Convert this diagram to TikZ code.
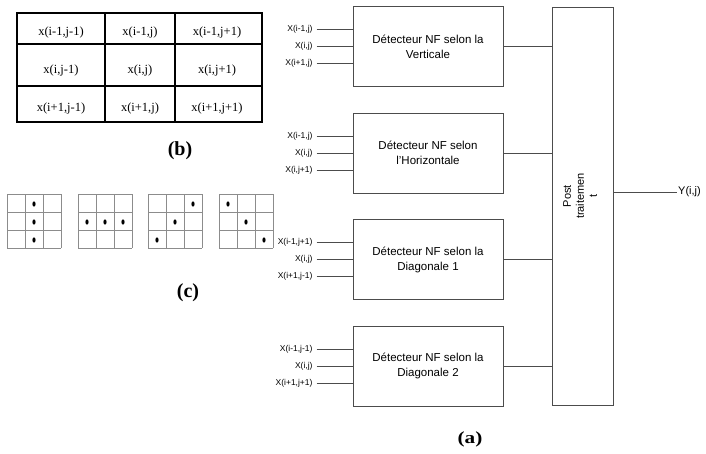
\documentclass[tikz,border=0pt]{standalone}
\usepackage{fontspec}
\setmainfont{Liberation Serif}
\setsansfont{Liberation Sans}
\usepackage{tikz}
\usetikzlibrary{positioning}
\definecolor{blockBorder}{rgb}{0.3,0.3,0.3}
\definecolor{gridBorder}{rgb}{0.55,0.55,0.55}
\tikzstyle{detector} = [draw=blockBorder, line width=0.6pt, minimum width=150pt, minimum height=80pt,
        align=center, font={\sffamily\fontsize{11.5}{15}\selectfont}]
\tikzstyle{post} = [draw=blockBorder, line width=0.6pt, minimum width=61pt, minimum height=398pt, inner sep=0pt]
\tikzstyle{input} = [font={\sffamily\fontsize{8.5}{9}\selectfont}, anchor=east, inner sep=4pt]
\tikzstyle{wire} = [draw=blockBorder, line width=0.6pt]
\tikzstyle{cell} = [font={\fontsize{12.5}{14}\selectfont}]
\tikzstyle{caption} = [font={\bfseries\fontsize{20}{22}\selectfont}]

\begin{document}
\begin{tikzpicture}[x=1pt, y=-1pt]
        \useasboundingbox (0,0) rectangle (706,453);
        % table (b)
        \draw [line width=1.6pt] (17,13) rectangle (262,122);
        \draw [line width=1.6pt] (105,13) -- (105,122) (175,13) -- (175,122)
            (17,44) -- (262,44) (17,86) -- (262,86);
        \node [cell] (c11) at (61,32) {x(i-1,j-1)};
        \node [cell] (c12) at (140,32) {x(i-1,j)};
        \node [cell] (c13) at (217,32) {x(i-1,j+1)};
        \node [cell] (c21) at (61,70) {x(i,j-1)};
        \node [cell] (c22) at (140,70) {x(i,j)};
        \node [cell] (c23) at (217,70) {x(i,j+1)};
        \node [cell] (c31) at (61,108) {x(i+1,j-1)};
        \node [cell] (c32) at (140,108) {x(i+1,j)};
        \node [cell] (c33) at (217,108) {x(i+1,j+1)};
        \node [caption] (capb) at (180,151) {(b)};
        % masks (c)
        \foreach \gx in {7,78,148,219}
            \foreach \k in {0,18,36,54} {
                \draw [gridBorder, line width=0.8pt] (\gx+\k,194) -- (\gx+\k,248);
                \draw [gridBorder, line width=0.8pt] (\gx,194+\k) -- (\gx+54,194+\k);
            }
        \foreach \gx/\c/\r in {7/1/0, 7/1/1, 7/1/2, 78/0/1, 78/1/1, 78/2/1,
                148/2/0, 148/1/1, 148/0/2, 219/0/0, 219/1/1, 219/2/2}
            \fill (\gx+9+18*\c,194+10+18*\r) ellipse (1.6 and 2.6);
        \node [caption] (capc) at (188,293) {(c)};
        % detectors
        \node [detector] (vert) at (428,46.5) {D\'etecteur NF selon la\\Verticale};
        \node [detector, below=26pt of vert] (hori) {D\'etecteur NF selon\\l'Horizontale};
        \node [detector, below=26pt of hori] (diag1) {D\'etecteur NF selon la\\Diagonale 1};
        \node [detector, below=26pt of diag1] (diag2) {D\'etecteur NF selon la\\Diagonale 2};
        \foreach \det/\ia/\ib/\ic in {vert/X(i-1{,}j)/X(i{,}j)/X(i+1{,}j),
                hori/X(i-1{,}j)/X(i{,}j)/X(i{,}j+1),
                diag1/X(i-1{,}j+1)/X(i{,}j)/X(i+1{,}j-1),
                diag2/X(i-1{,}j-1)/X(i{,}j)/X(i+1{,}j+1)} {
            \node [input, xshift=-36pt, yshift=17pt] (\det-a) at (\det.west) {\ia};
            \node [input, xshift=-36pt] (\det-b) at (\det.west) {\ib};
            \node [input, xshift=-36pt, yshift=-17pt] (\det-c) at (\det.west) {\ic};
            \draw [wire] (\det-a.east) -- (\det-a.east -| \det.west);
            \draw [wire] (\det-b.east) -- (\det-b.east -| \det.west);
            \draw [wire] (\det-c.east) -- (\det-c.east -| \det.west);
        }
        % post-processing
        \node [post] (post) at (582.5,206) {};
        \node [rotate=90, align=center, font={\sffamily\fontsize{11}{13}\selectfont}] (posttext)
            at (580,196) {Post\\traitemen\\t};
        \foreach \det in {vert,hori,diag1,diag2}
            \draw [wire] (\det.east) -- (\det.east -| post.west);
        \node [font={\sffamily\fontsize{11}{13}\selectfont}, anchor=west, inner sep=1pt] (out) at (677,192) {Y(i,j)};
        \draw [wire] (out.west -| post.east) -- (out.west);
        \node [caption, font={\bfseries\fontsize{17}{19}\selectfont}, xscale=1.25] (capa) at (470,439) {(a)};
    \end{tikzpicture}
\end{document}
